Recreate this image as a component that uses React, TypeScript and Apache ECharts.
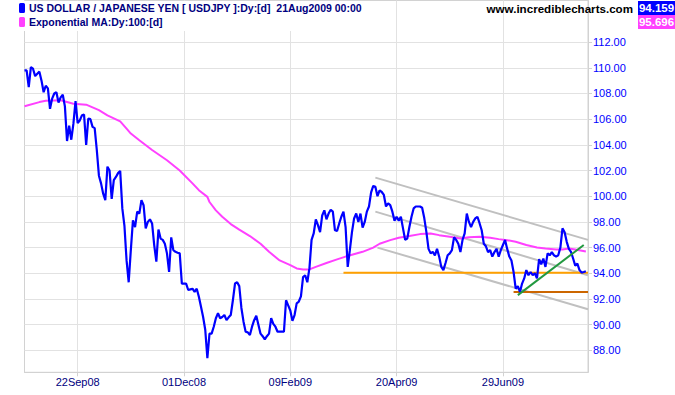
import React, { useEffect, useRef } from 'react';
import * as echarts from 'echarts';

// ---- data ----
const startDateUTC = Date.UTC(2008, 7, 18); // first trading day (Mon 18 Aug 2008)
const tradingDayCount = 265; // up to Fri 21 Aug 2009
const xTickLabels = ['22Sep08', '01Dec08', '09Feb09', '20Apr09', '29Jun09'];
const yTickValues = [88, 90, 92, 94, 96, 98, 100, 102, 104, 106, 108, 110, 112];
const yMin = 86.29;
const yMax = 115.24;

const priceValues = [
  109.8, 109.8, 108.5, 110.05, 109.93, 109.35, 109.54, 109.7, 109.0, 108.1,
  108.6, 108.4, 106.8, 107.6, 108.0, 108.1, 107.3, 107.7, 107.9, 107.0,
  104.3, 105.5, 104.4, 105.65, 107.4, 105.7, 105.9, 106.3, 106.35, 104.0,
  106.05, 106.0, 105.4, 105.3, 103.6, 101.6, 101.0, 100.2, 99.7, 102.3,
  102.0, 99.8, 101.25, 101.5, 101.8, 101.97, 99.05, 97.7, 95.0, 93.3,
  95.8, 98.13, 97.6, 98.8, 98.65, 99.7, 99.3, 97.5, 98.0, 98.2,
  97.88, 96.2, 94.9, 97.4, 96.7, 96.6, 96.3, 95.55, 94.1, 96.8,
  95.8, 95.67, 95.6, 95.55, 93.2, 93.2, 93.2, 92.7, 92.75, 92.8,
  92.55, 92.8, 92.17, 91.4, 90.6, 89.6, 87.4, 89.3, 89.3, 89.84,
  90.5, 90.9, 90.5, 90.6, 90.75, 90.35, 90.57, 90.75, 91.9, 93.2,
  93.3, 93.0, 91.3, 90.23, 89.45, 89.4, 89.2, 89.84, 90.35, 90.7,
  90.0, 89.3, 89.1, 88.85, 89.1, 89.3, 90.5, 90.06, 89.84, 89.45,
  89.45, 89.45, 89.45, 91.9, 91.5, 91.1, 90.3, 90.75, 91.66, 91.8,
  92.2, 93.7, 93.85, 93.3, 94.4, 96.6, 97.1, 98.2, 97.75, 97.2,
  98.5, 98.9, 98.2, 98.65, 98.95, 98.8, 97.35, 97.3, 97.88, 98.4,
  98.8, 97.6, 94.5, 95.8, 97.2, 98.27, 98.65, 98.0, 98.65, 97.55,
  98.0, 98.8, 99.2, 100.3, 100.8, 100.73, 100.0, 100.45, 100.33, 100.1,
  99.2, 99.44, 99.3, 98.8, 98.1, 98.4, 98.1, 98.4, 97.5, 96.6,
  96.7, 97.6, 98.4, 99.05, 99.2, 99.2, 99.2, 99.1, 98.3, 97.2,
  95.9, 95.55, 95.67, 95.4, 95.9, 95.3, 94.5, 94.25, 94.8, 95.4,
  95.55, 95.8, 96.8, 96.6, 96.3, 95.65, 96.6, 97.1, 98.65, 98.0,
  97.6, 98.0, 98.27, 98.4, 97.9, 97.35, 96.3, 96.1, 95.65, 95.8,
  95.3, 95.65, 95.9, 95.3, 95.8, 96.2, 96.6, 95.9, 95.3, 95.0,
  94.1, 92.8, 93.0, 92.55, 93.2, 93.6, 94.25, 93.85, 94.1, 93.85,
  94.0, 93.6, 95.1, 94.7, 95.15, 94.5, 95.55, 95.4, 95.65, 95.4,
  95.3, 95.4, 96.0, 97.5, 97.2, 96.45, 95.9, 95.67, 95.15, 94.6,
  94.75, 94.25, 94.05, 94.1, 94.159,
];

// [trading-day index, EMA value]
const emaPoints: [number, number][] = [
  [0, 107.0], [7, 107.33], [10, 107.44], [17, 107.47], [23, 107.2], [29, 107.13],
  [35, 106.7], [39, 106.3], [45, 105.83], [48, 105.26], [50, 104.88], [54, 104.36],
  [60, 103.6], [67, 102.8], [73, 102.0], [79, 101.0], [82, 100.47], [86, 99.95],
  [87, 99.55], [90, 98.9], [93, 98.4], [97, 97.83], [101, 97.4], [106, 96.9],
  [111, 96.3], [115, 95.67], [120, 95.0], [125, 94.64], [128, 94.38], [131, 94.3],
  [134, 94.3], [137, 94.5], [142, 94.8], [147, 95.08], [151, 95.3], [159, 95.67],
  [164, 96.0], [167, 96.3], [172, 96.58], [176, 96.76], [181, 96.9], [186, 97.05],
  [191, 97.1], [195, 96.97], [200, 96.84], [205, 96.7], [209, 96.8], [214, 96.84],
  [219, 96.76], [223, 96.66], [227, 96.58], [231, 96.45], [236, 96.2], [241, 96.0],
  [245, 95.93], [250, 95.85], [253, 95.85], [256, 95.93], [259, 95.85], [264, 95.696],
];

const upperChannel: [number, number][] = [[165, 101.45], [265, 96.6]];
const middleChannel: [number, number][] = [[165, 98.8], [265, 93.85]];
const lowerChannel: [number, number][] = [[166, 96.0], [265, 91.2]];
const supportLine: [number, number][] = [[150, 94.05], [265, 94.05]];
const lowLine: [number, number][] = [[230, 92.55], [265, 92.55]];
const trendLine: [number, number][] = [[232, 92.3], [263, 96.2]];

const seriesTitle = 'US DOLLAR / JAPANESE YEN [ USDJPY ]:Dy:[d]  21Aug2009 00:00';
const maTitle = 'Exponential MA:Dy:100:[d]';
const siteText = 'www.incrediblecharts.com';

const MONTHS = ['Jan', 'Feb', 'Mar', 'Apr', 'May', 'Jun', 'Jul', 'Aug', 'Sep', 'Oct', 'Nov', 'Dec'];

function buildCategories(): string[] {
  const out: string[] = [];
  let t = startDateUTC;
  while (out.length < tradingDayCount) {
    const d = new Date(t);
    const wd = d.getUTCDay();
    if (wd !== 0 && wd !== 6) {
      const dd = String(d.getUTCDate()).padStart(2, '0');
      const yy = String(d.getUTCFullYear() % 100).padStart(2, '0');
      out.push(dd + MONTHS[d.getUTCMonth()] + yy);
    }
    t += 86400000;
  }
  out.push(''); // right padding slot
  return out;
}

const FONT = '"Liberation Sans", Arial, sans-serif';

export default function App() {
  const ref = useRef<HTMLDivElement>(null);

  useEffect(() => {
    if (!ref.current) return;
    const chart = echarts.init(ref.current, undefined, { renderer: 'svg' });
    const categories = buildCategories();
    const tickIdx = new Set(xTickLabels.map((l) => categories.indexOf(l)));
    const isTick = (i: number) => tickIdx.has(i);
    const lastPrice = priceValues[priceValues.length - 1];
    const lastEma = emaPoints[emaPoints.length - 1][1];
    const gridColor = '#e2e2e2';
    const borderColor = '#d2d2d2';

    const lineSeries = (data: [number, number][], color: string, width: number, z: number) => ({
      type: 'line',
      data,
      symbol: 'none',
      silent: true,
      z,
      lineStyle: { color, width },
    });

    chart.setOption({
      animation: false,
      backgroundColor: '#ffffff',
      grid: {
        left: 24.5,
        top: 0.5,
        width: 563.5,
        height: 371.8,
        show: true,
        borderColor: borderColor,
        borderWidth: 1,
        backgroundColor: 'transparent',
      },
      xAxis: {
        type: 'category',
        data: categories,
        boundaryGap: false,
        axisLine: { show: true, lineStyle: { color: borderColor } },
        axisTick: { show: true, interval: isTick, length: 4, lineStyle: { color: borderColor } },
        axisLabel: {
          interval: isTick,
          color: '#000080',
          fontSize: 11,
          fontFamily: FONT,
          margin: 4,
        },
        splitLine: { show: true, interval: isTick, lineStyle: { color: gridColor, width: 1 } },
      },
      yAxis: {
        type: 'value',
        position: 'right',
        min: yMin,
        max: yMax,
        axisLine: { show: true, lineStyle: { color: borderColor } },
        axisTick: { show: true, customValues: yTickValues, length: 4, lineStyle: { color: borderColor } },
        axisLabel: {
          customValues: yTickValues,
          formatter: (v: number) => v.toFixed(2),
          color: '#0000ff',
          fontSize: 11,
          fontFamily: FONT,
          margin: 5,
        },
        splitLine: { show: true, lineStyle: { color: gridColor, width: 1 } },
      },
      series: [
        lineSeries(upperChannel, '#c0c0c0', 2, 2),
        lineSeries(middleChannel, '#c0c0c0', 2, 2),
        lineSeries(lowerChannel, '#c0c0c0', 2, 2),
        lineSeries(supportLine, '#ffa000', 2, 3),
        lineSeries(lowLine, '#cc6600', 2, 3),
        lineSeries(emaPoints, '#ff40ff', 2, 4),
        {
          type: 'line',
          data: priceValues,
          symbol: 'none',
          silent: true,
          z: 5,
          lineStyle: { color: '#0000ff', width: 2.2 },
        },
        lineSeries(trendLine, '#229940', 2, 6),
      ],
      graphic: [
        { type: 'rect', z: 100, shape: { x: 0, y: 1, width: 366, height: 30 }, style: { fill: '#ffffff' } },
        { type: 'rect', z: 101, shape: { x: 19, y: 3, width: 6, height: 10, r: 1.5 }, style: { fill: '#0000ff' } },
        { type: 'rect', z: 101, shape: { x: 19, y: 17, width: 6, height: 10, r: 1.5 }, style: { fill: '#ff40ff' } },
        {
          type: 'text', z: 101, x: 29, y: 8,
          style: { text: seriesTitle, fill: '#000080', fontSize: 10.5, fontWeight: 'bold', fontFamily: FONT, verticalAlign: 'middle', textVerticalAlign: 'middle' },
        },
        {
          type: 'text', z: 101, x: 29, y: 22,
          style: { text: maTitle, fill: '#000080', fontSize: 10.5, fontWeight: 'bold', fontFamily: FONT, verticalAlign: 'middle', textVerticalAlign: 'middle' },
        },
        {
          type: 'text', z: 101, x: 633, y: 8,
          style: { text: siteText, fill: '#000000', fontSize: 11.6, fontWeight: 'bold', fontFamily: FONT, align: 'right', textAlign: 'right', verticalAlign: 'middle', textVerticalAlign: 'middle' },
        },
        { type: 'rect', z: 101, shape: { x: 638, y: 1, width: 37, height: 14 }, style: { fill: '#0000ff' } },
        { type: 'rect', z: 101, shape: { x: 638, y: 15, width: 37, height: 14 }, style: { fill: '#ff40ff' } },
        {
          type: 'text', z: 102, x: 656.5, y: 8,
          style: { text: lastPrice.toFixed(3), fill: '#ffffff', fontSize: 11.5, fontWeight: 'bold', fontFamily: FONT, align: 'center', textAlign: 'center', verticalAlign: 'middle', textVerticalAlign: 'middle' },
        },
        {
          type: 'text', z: 102, x: 656.5, y: 22,
          style: { text: lastEma.toFixed(3), fill: '#ffffff', fontSize: 11.5, fontWeight: 'bold', fontFamily: FONT, align: 'center', textAlign: 'center', verticalAlign: 'middle', textVerticalAlign: 'middle' },
        },
      ],
    });

    return () => chart.dispose();
  }, []);

  return (
    <div
      ref={ref}
      style={{ position: 'absolute', left: 0, top: 0, width: 675, height: 395 }}
    />
  );
}
